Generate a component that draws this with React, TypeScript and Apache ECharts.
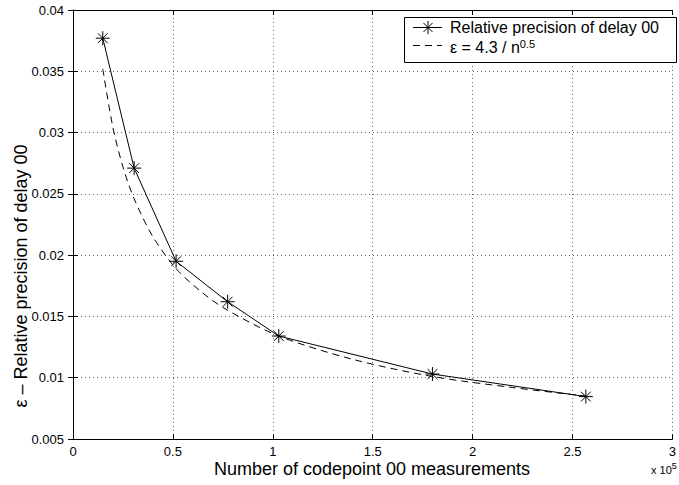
import React, { useEffect, useRef } from "react";
import * as echarts from "echarts";

// x in units of 10^5 measurements
const measX = [0.149, 0.306, 0.516, 0.774, 1.03, 1.799, 2.567];
const measY = [0.0377, 0.0271, 0.0195, 0.0162, 0.0134, 0.0103, 0.00846];

const fitX = [0.149, 0.2, 0.25, 0.306, 0.4, 0.516, 0.65, 0.774, 1.03, 1.4, 1.799, 2.2, 2.567];
const fitY = [0.0352, 0.0304, 0.0272, 0.0246, 0.0215, 0.0189, 0.0169, 0.0155, 0.0134, 0.0115, 0.0101, 0.0092, 0.0085];

const xTicks = ["0", "0.5", "1", "1.5", "2", "2.5", "3"];
const seriesNames = ["Relative precision of delay 00", "ε = 4.3 / n^0.5"];

const FONT = "Liberation Sans, Arial, Helvetica, sans-serif";
const STAR = "path://M-1,0L1,0M0,-1L0,1M-0.7,-0.7L0.7,0.7M-0.7,0.7L0.7,-0.7";

export default function App() {
  const ref = useRef<HTMLDivElement>(null);
  useEffect(() => {
    document.body.style.margin = "0";
    const chart = echarts.init(ref.current!, null, { renderer: "svg" });
    const L = 73, T = 10, R = 678, B = 439;
    const axisCommon = {
      type: "value" as const,
      axisLine: { show: true, lineStyle: { color: "#000", width: 1 } },
      axisTick: { show: true, inside: true, length: 5, lineStyle: { color: "#000" } },
    };
    const star = (cx: number, cy: number, r: number) => {
      const d = r * 0.7;
      return [
        [cx - r, cy, cx + r, cy],
        [cx, cy - r, cx, cy + r],
        [cx - d, cy - d, cx + d, cy + d],
        [cx - d, cy + d, cx + d, cy - d],
      ].map((s) => ({
        type: "line",
        z: 101,
        shape: { x1: s[0], y1: s[1], x2: s[2], y2: s[3] },
        style: { stroke: "#000", lineWidth: 1 },
      }));
    };
    chart.setOption({
      animation: false,
      backgroundColor: "#fff",
      textStyle: { fontFamily: FONT },
      grid: { left: L, top: T, width: R - L, height: B - T, containLabel: false },
      xAxis: [
        {
          ...axisCommon,
          position: "bottom",
          min: 0,
          max: 3,
          interval: 0.5,
          axisLabel: {
            color: "#000",
            fontSize: 13,
            fontFamily: FONT,
            margin: 6,
            formatter: (v: number) => xTicks[Math.round(v / 0.5)] ?? String(v),
          },
          splitLine: { show: true, lineStyle: { color: "#666", type: [1, 3], width: 1 } },
        },
        {
          ...axisCommon,
          position: "top",
          min: 0,
          max: 3,
          interval: 0.5,
          axisLabel: { show: false },
          splitLine: { show: false },
        },
      ],
      yAxis: [
        {
          ...axisCommon,
          position: "left",
          min: 0.005,
          max: 0.04,
          interval: 0.005,
          axisLabel: {
            color: "#000",
            fontSize: 13,
            fontFamily: FONT,
            margin: 9,
            formatter: (v: number) => String(parseFloat(v.toFixed(3))),
          },
          splitLine: { show: true, lineStyle: { color: "#666", type: [1, 3], width: 1 } },
        },
        {
          ...axisCommon,
          position: "right",
          min: 0.005,
          max: 0.04,
          interval: 0.005,
          axisLabel: { show: false },
          splitLine: { show: false },
        },
      ],
      series: [
        {
          name: seriesNames[0],
          type: "line",
          data: measX.map((x, i) => [x, measY[i]]),
          symbol: STAR,
          symbolSize: 14,
          showSymbol: true,
          itemStyle: { color: "rgba(0,0,0,0)", borderColor: "#000", borderWidth: 1 },
          lineStyle: { color: "#000", width: 1 },
          z: 3,
        },
        {
          name: seriesNames[1],
          type: "line",
          data: fitX.map((x, i) => [x, fitY[i]]),
          symbol: "none",
          smooth: 0.3,
          lineStyle: { color: "#000", width: 1, type: [7, 5] },
          z: 2,
        },
      ],
      graphic: [
        {
          type: "text",
          x: 21,
          y: 276,
          rotation: Math.PI / 2,
          style: {
            text: "ε – Relative precision of delay 00",
            font: `18px ${FONT}`,
            fill: "#000",
            align: "center",
            verticalAlign: "middle",
          },
        },
        {
          type: "text",
          x: 372,
          y: 469,
          style: {
            text: "Number of codepoint 00 measurements",
            font: `18px ${FONT}`,
            fill: "#000",
            align: "center",
            verticalAlign: "middle",
          },
        },
        {
          type: "text",
          x: 651,
          y: 470,
          style: {
            text: "x 10{sup|5}",
            font: `11px ${FONT}`,
            fill: "#000",
            verticalAlign: "middle",
            rich: { sup: { fontSize: 9, fontFamily: FONT, verticalAlign: "bottom", padding: [0, 0, 9, 0] } },
          },
        },
        {
          type: "rect",
          z: 100,
          shape: { x: 404.5, y: 17.5, width: 272, height: 45 },
          style: { fill: "#fff", stroke: "#000", lineWidth: 1 },
        },
        {
          type: "line",
          z: 101,
          shape: { x1: 413, y1: 27.5, x2: 442, y2: 27.5 },
          style: { stroke: "#000", lineWidth: 1 },
        },
        ...star(428, 27.5, 6.5),
        {
          type: "text",
          z: 101,
          x: 450,
          y: 27,
          style: {
            text: seriesNames[0],
            font: `16px ${FONT}`,
            fill: "#000",
            verticalAlign: "middle",
          },
        },
        {
          type: "line",
          z: 101,
          shape: { x1: 413, y1: 45.5, x2: 442, y2: 45.5 },
          style: { stroke: "#000", lineWidth: 1, lineDash: [7, 5] },
        },
        {
          type: "text",
          z: 101,
          x: 450,
          y: 47,
          style: {
            text: "ε = 4.3 / n{sup|0.5}",
            font: `16px ${FONT}`,
            fill: "#000",
            verticalAlign: "middle",
            rich: { sup: { fontSize: 11, fontFamily: FONT, verticalAlign: "bottom", padding: [0, 0, 6, 0] } },
          },
        },
      ],
    });
    return () => chart.dispose();
  }, []);
  return (
    <div
      ref={ref}
      style={{ width: 679, height: 485, position: "absolute", left: 0, top: 0 }}
    />
  );
}
